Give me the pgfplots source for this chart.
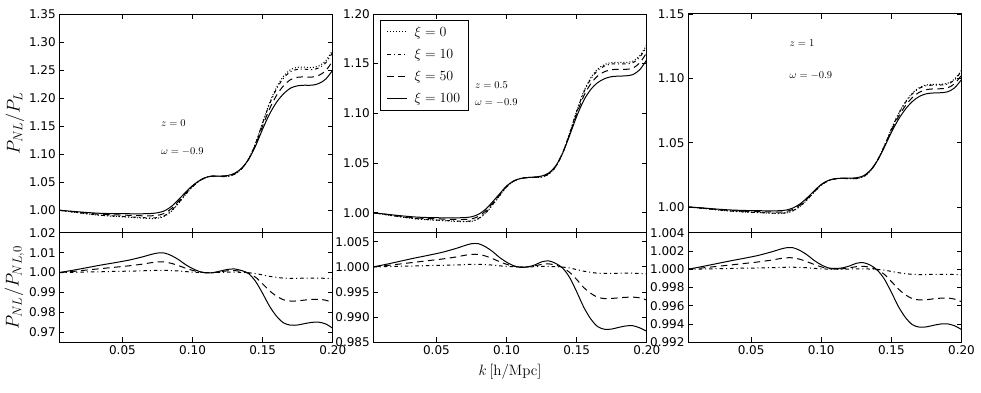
\RequirePackage{fix-cm}
\documentclass[border=0pt]{standalone}
\usepackage[no-math]{fontspec}
\setmainfont{DejaVu Sans}
\usepackage{pgfplots}
\usepackage{pgfplotstable}
\pgfplotsset{compat=1.18}

% columns: k, P_NL/P_L for xi=0,10,50,100, then P_NL/P_NL,0 for xi=10,50,100
\pgfplotstableread{
k     t0     t10    t50    t100   r10    r50    r100
0.005 1.0000 1.0000 1.0000 1.0000 1.0000 1.0000 1.0000
0.015 0.9968 0.9969 0.9974 0.9980 1.0001 1.0006 1.0012
0.025 0.9935 0.9938 0.9948 0.9960 1.0003 1.0013 1.0025
0.035 0.9907 0.9911 0.9927 0.9945 1.0004 1.0020 1.0038
0.045 0.9891 0.9897 0.9918 0.9940 1.0006 1.0027 1.0050
0.055 0.9876 0.9883 0.9910 0.9938 1.0007 1.0034 1.0063
0.065 0.9859 0.9868 0.9901 0.9938 1.0009 1.0043 1.0080
0.070 0.9853 0.9863 0.9901 0.9942 1.0010 1.0049 1.0090
0.075 0.9858 0.9869 0.9910 0.9955 1.0011 1.0053 1.0098
0.080 0.9893 0.9904 0.9945 0.9990 1.0011 1.0053 1.0098
0.085 0.9985 0.9995 1.0031 1.0070 1.0010 1.0046 1.0085
0.090 1.0124 1.0132 1.0159 1.0190 1.0008 1.0035 1.0065
0.095 1.0279 1.0284 1.0302 1.0320 1.0005 1.0022 1.0040
0.100 1.0419 1.0421 1.0430 1.0440 1.0002 1.0011 1.0020
0.105 1.0525 1.0526 1.0528 1.0530 1.0001 1.0003 1.0005
0.110 1.0592 1.0592 1.0591 1.0590 1.0000 0.9999 0.9998
0.115 1.0610 1.0610 1.0610 1.0610 1.0000 1.0000 1.0000
0.120 1.0602 1.0603 1.0606 1.0610 1.0001 1.0004 1.0008
0.125 1.0603 1.0605 1.0613 1.0620 1.0002 1.0009 1.0016
0.130 1.0641 1.0643 1.0652 1.0660 1.0002 1.0010 1.0018
0.135 1.0739 1.0740 1.0744 1.0750 1.0001 1.0005 1.0010
0.140 1.0915 1.0914 1.0912 1.0910 0.9999 0.9997 0.9995
0.145 1.1200 1.1194 1.1173 1.1150 0.9995 0.9976 0.9955
0.150 1.1572 1.1558 1.1506 1.1450 0.9988 0.9943 0.9895
0.155 1.1923 1.1900 1.1813 1.1720 0.9981 0.9908 0.9830
0.160 1.2198 1.2169 1.2053 1.1930 0.9976 0.9881 0.9780
0.165 1.2394 1.2359 1.2224 1.2080 0.9972 0.9863 0.9747
0.170 1.2510 1.2474 1.2331 1.2180 0.9971 0.9857 0.9736
0.175 1.2550 1.2514 1.2372 1.2220 0.9971 0.9858 0.9737
0.180 1.2551 1.2516 1.2378 1.2230 0.9972 0.9862 0.9744
0.185 1.2544 1.2509 1.2375 1.2230 0.9972 0.9865 0.9750
0.190 1.2573 1.2538 1.2405 1.2260 0.9972 0.9866 0.9751
0.195 1.2667 1.2630 1.2491 1.2340 0.9971 0.9861 0.9742
0.200 1.2860 1.2820 1.2666 1.2500 0.9969 0.9849 0.9720
}\zzero

\pgfplotstableread{
k     t0     t10    t50    t100   r10     r50     r100
0.005 1.0000 1.0000 1.0000 1.0000 1.00000 1.00000 1.00000
0.015 0.9979 0.9980 0.9982 0.9985 1.00005 1.00028 1.00056
0.025 0.9958 0.9959 0.9964 0.9970 1.00013 1.00061 1.00118
0.035 0.9940 0.9942 0.9949 0.9958 1.00018 1.00094 1.00179
0.045 0.9929 0.9932 0.9942 0.9952 1.00027 1.00127 1.00235
0.055 0.9921 0.9924 0.9937 0.9950 1.00032 1.00160 1.00296
0.065 0.9913 0.9917 0.9933 0.9950 1.00040 1.00202 1.00376
0.070 0.9910 0.9914 0.9933 0.9952 1.00045 1.00230 1.00423
0.075 0.9914 0.9919 0.9939 0.9960 1.00050 1.00249 1.00461
0.080 0.9939 0.9944 0.9964 0.9985 1.00050 1.00249 1.00461
0.085 0.9995 0.9999 1.0017 1.0035 1.00045 1.00216 1.00400
0.090 1.0079 1.0083 1.0096 1.0110 1.00036 1.00165 1.00306
0.095 1.0171 1.0173 1.0181 1.0190 1.00022 1.00103 1.00188
0.100 1.0260 1.0261 1.0265 1.0270 1.00009 1.00052 1.00094
0.105 1.0318 1.0318 1.0319 1.0320 1.00004 1.00014 1.00024
0.110 1.0346 1.0346 1.0345 1.0345 1.00000 0.99995 0.99991
0.115 1.0355 1.0355 1.0355 1.0355 1.00000 1.00000 1.00000
0.120 1.0356 1.0356 1.0358 1.0360 1.00004 1.00019 1.00038
0.125 1.0360 1.0361 1.0365 1.0370 1.00009 1.00050 1.00100
0.130 1.0388 1.0389 1.0394 1.0400 1.00009 1.00060 1.00120
0.135 1.0463 1.0463 1.0467 1.0470 1.00004 1.00035 1.00070
0.140 1.0603 1.0603 1.0602 1.0600 0.99996 0.99986 0.99976
0.145 1.0803 1.0801 1.0791 1.0780 0.99978 0.99890 0.99788
0.150 1.1024 1.1018 1.0996 1.0970 0.99946 0.99750 0.99506
0.155 1.1220 1.1210 1.1174 1.1130 0.99915 0.99590 0.99201
0.160 1.1357 1.1345 1.1297 1.1240 0.99892 0.99475 0.98966
0.165 1.1446 1.1432 1.1377 1.1310 0.99874 0.99395 0.98811
0.170 1.1493 1.1478 1.1421 1.1350 0.99870 0.99370 0.98759
0.175 1.1512 1.1497 1.1440 1.1370 0.99870 0.99372 0.98764
0.180 1.1514 1.1499 1.1443 1.1375 0.99874 0.99385 0.98797
0.185 1.1513 1.1498 1.1443 1.1378 0.99874 0.99395 0.98825
0.190 1.1525 1.1510 1.1456 1.1390 0.99874 0.99398 0.98830
0.195 1.1580 1.1565 1.1509 1.1440 0.99870 0.99385 0.98787
0.200 1.1690 1.1674 1.1613 1.1540 0.99860 0.99340 0.98720
}\zhalf

\pgfplotstableread{
k     t0     t10    t50    t100   r10     r50     r100
0.005 1.0000 1.0000 1.0000 1.0000 1.00000 1.00000 1.00000
0.015 0.9990 0.9990 0.9991 0.9993 1.00002 1.00014 1.00029
0.025 0.9978 0.9979 0.9981 0.9984 1.00006 1.00030 1.00060
0.035 0.9968 0.9969 0.9973 0.9977 1.00008 1.00046 1.00091
0.045 0.9961 0.9962 0.9967 0.9973 1.00012 1.00063 1.00120
0.055 0.9956 0.9957 0.9964 0.9971 1.00014 1.00080 1.00151
0.065 0.9951 0.9953 0.9961 0.9970 1.00018 1.00101 1.00192
0.070 0.9949 0.9951 0.9960 0.9971 1.00020 1.00115 1.00216
0.075 0.9953 0.9955 0.9965 0.9976 1.00022 1.00125 1.00235
0.080 0.9970 0.9972 0.9982 0.9993 1.00022 1.00125 1.00235
0.085 1.0005 1.0007 1.0016 1.0025 1.00020 1.00108 1.00204
0.090 1.0056 1.0058 1.0064 1.0072 1.00016 1.00082 1.00156
0.095 1.0116 1.0117 1.0121 1.0126 1.00010 1.00052 1.00096
0.100 1.0170 1.0170 1.0173 1.0175 1.00004 1.00026 1.00048
0.105 1.0204 1.0204 1.0205 1.0206 1.00002 1.00007 1.00015
0.110 1.0219 1.0219 1.0219 1.0220 1.00000 1.00002 1.00008
0.115 1.0222 1.0222 1.0223 1.0224 1.00000 1.00005 1.00015
0.120 1.0220 1.0220 1.0222 1.0224 1.00002 1.00015 1.00035
0.125 1.0220 1.0220 1.0223 1.0227 1.00004 1.00028 1.00065
0.130 1.0235 1.0235 1.0238 1.0242 1.00004 1.00032 1.00072
0.135 1.0280 1.0280 1.0282 1.0285 1.00002 1.00020 1.00045
0.140 1.0361 1.0361 1.0360 1.0360 0.99998 0.99993 0.99990
0.145 1.0476 1.0475 1.0470 1.0465 0.99990 0.99944 0.99892
0.150 1.0607 1.0604 1.0593 1.0580 0.99976 0.99866 0.99748
0.155 1.0724 1.0720 1.0701 1.0680 0.99962 0.99784 0.99592
0.160 1.0817 1.0812 1.0787 1.0760 0.99952 0.99720 0.99472
0.165 1.0886 1.0880 1.0851 1.0820 0.99944 0.99678 0.99393
0.170 1.0929 1.0923 1.0892 1.0860 0.99942 0.99664 0.99366
0.175 1.0949 1.0943 1.0912 1.0880 0.99942 0.99666 0.99369
0.180 1.0953 1.0947 1.0918 1.0886 0.99944 0.99676 0.99386
0.185 1.0954 1.0948 1.0919 1.0888 0.99944 0.99683 0.99400
0.190 1.0961 1.0955 1.0926 1.0895 0.99944 0.99685 0.99402
0.195 1.0993 1.0987 1.0957 1.0925 0.99942 0.99673 0.99381
0.200 1.1063 1.1056 1.1024 1.0990 0.99938 0.99645 0.99340
}\zone

\tikzset{
  s0/.style={dash pattern=on 1pt off 2pt},
  s10/.style={dash pattern=on 3.5pt off 3pt on 1pt off 3pt},
  s50/.style={dash pattern=on 6.5pt off 4.5pt},
  s100/.style={solid},
  note/.style={anchor=base west, font=\fontsize{10.5}{12}\selectfont},
}
\pgfplotsset{
  base/.style={
    scale only axis, width=273.5pt, xmin=0.005, xmax=0.2,
    xtick={0.05,0.10,0.15,0.20},
    tick align=inside, major tick length=5pt,
    axis line style={line width=1pt},
    every tick/.style={black, line width=0.8pt},
    tick label style={font=\fontsize{12}{14}\selectfont},
    /pgf/number format/assume math mode=true,
    xticklabel style={/pgf/number format/.cd, fixed, fixed zerofill, precision=2},
    every axis plot/.append style={smooth, no markers, line width=1pt, black},
  },
  top/.style={base, height=218.7pt, xticklabels={},
    yticklabel style={/pgf/number format/.cd, fixed, fixed zerofill, precision=2}},
  bot/.style={base, height=109.6pt},
}

\begin{document}
\begin{tikzpicture}
\path[use as bounding box] (0,0) rectangle (981pt,392pt);

% top row
\begin{axis}[top, at={(59.3pt,159.3pt)}, anchor=south west,
    ymin=0.96, ymax=1.35, ytick={1.00,1.05,1.10,1.15,1.20,1.25,1.30,1.35},
    ylabel={$P_{NL}/P_L$},
    ylabel style={at={(rel axis cs:-0.162,0.5)}, anchor=center, font=\fontsize{18.5}{20}\selectfont}]
\addplot[s0]   table[x=k, y=t0]   {\zzero};
\addplot[s10]  table[x=k, y=t10]  {\zzero};
\addplot[s50]  table[x=k, y=t50]  {\zzero};
\addplot[s100] table[x=k, y=t100] {\zzero};
\node[note] at (axis cs:0.075,1.15) {$z=0$};
\node[note] at (axis cs:0.075,1.10) {$\omega=-0.9$};
\end{axis}

\begin{axis}[top, at={(373.3pt,159.3pt)}, anchor=south west,
    ymin=0.98, ymax=1.20, ytick={1.00,1.05,1.10,1.15,1.20},
    legend style={at={(rel axis cs:0.025,0.973)}, anchor=north west,
      draw=black, line width=0.8pt, font=\fontsize{14}{16}\selectfont,
      inner xsep=6pt, inner ysep=4pt, row sep=7pt, column sep=5pt,
      cells={anchor=west}},
    legend image code/.code={\draw[#1] (0pt,0pt) -- (20pt,0pt);}]
\addplot[s0]   table[x=k, y=t0]   {\zhalf};
\addlegendentry{$\xi=0$}
\addplot[s10]  table[x=k, y=t10]  {\zhalf};
\addlegendentry{$\xi=10$}
\addplot[s50]  table[x=k, y=t50]  {\zhalf};
\addlegendentry{$\xi=50$}
\addplot[s100] table[x=k, y=t100] {\zhalf};
\addlegendentry{$\xi=100$}
\node[note] at (axis cs:0.075,1.125) {$z=0.5$};
\node[note] at (axis cs:0.075,1.108) {$\omega=-0.9$};
\end{axis}

\begin{axis}[top, at={(688pt,159.3pt)}, anchor=south west,
    ymin=0.98, ymax=1.15, ytick={1.00,1.05,1.10,1.15}]
\addplot[s0]   table[x=k, y=t0]   {\zone};
\addplot[s10]  table[x=k, y=t10]  {\zone};
\addplot[s50]  table[x=k, y=t50]  {\zone};
\addplot[s100] table[x=k, y=t100] {\zone};
\node[note] at (axis cs:0.075,1.125) {$z=1$};
\node[note] at (axis cs:0.075,1.10) {$\omega=-0.9$};
\end{axis}

% bottom row
\begin{axis}[bot, at={(59.3pt,49.7pt)}, anchor=south west,
    ymin=0.965, ymax=1.02, ytick={0.97,0.98,0.99,1.00,1.01,1.02},
    yticklabel style={/pgf/number format/.cd, fixed, fixed zerofill, precision=2},
    ylabel={$P_{NL}/P_{NL,0}$},
    ylabel style={at={(rel axis cs:-0.164,0.5)}, anchor=center, font=\fontsize{18.5}{20}\selectfont}]
\addplot[s10]  table[x=k, y=r10]  {\zzero};
\addplot[s50]  table[x=k, y=r50]  {\zzero};
\addplot[s100] table[x=k, y=r100] {\zzero};
\end{axis}

\begin{axis}[bot, at={(373.3pt,49.7pt)}, anchor=south west,
    ymin=0.985, ymax=1.0068, ytick={0.985,0.990,0.995,1.000,1.005},
    yticklabel style={/pgf/number format/.cd, fixed, fixed zerofill, precision=3},
    xlabel={$k\,[\mathrm{h/Mpc}]$},
    xlabel style={at={(rel axis cs:0.5,-0.268)}, anchor=center, font=\fontsize{15}{17}\selectfont}]
\addplot[s10]  table[x=k, y=r10]  {\zhalf};
\addplot[s50]  table[x=k, y=r50]  {\zhalf};
\addplot[s100] table[x=k, y=r100] {\zhalf};
\end{axis}

\begin{axis}[bot, at={(688pt,49.7pt)}, anchor=south west,
    ymin=0.992, ymax=1.004, ytick={0.992,0.994,0.996,0.998,1.000,1.002,1.004},
    yticklabel style={/pgf/number format/.cd, fixed, fixed zerofill, precision=3}]
\addplot[s10]  table[x=k, y=r10]  {\zone};
\addplot[s50]  table[x=k, y=r50]  {\zone};
\addplot[s100] table[x=k, y=r100] {\zone};
\end{axis}
\end{tikzpicture}
\end{document}
